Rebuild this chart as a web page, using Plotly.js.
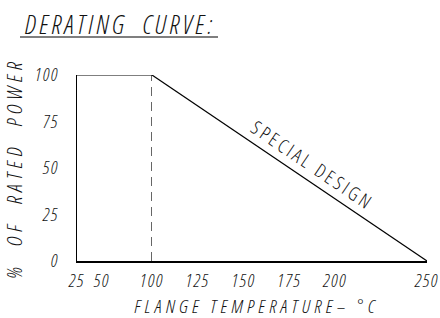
<!DOCTYPE html>
<html><head><meta charset="utf-8">
<script src="https://cdn.plot.ly/plotly-3.0.1.min.js"></script>
<style>html,body{margin:0;padding:0;background:#fff}#chart{width:440px;height:318px}
#chart svg text{font-stretch:75% !important;font-style:italic !important;}
#chart svg .gtitle{letter-spacing:3.2px;}
#chart svg .g-ytitle text{letter-spacing:4.6px;}
#chart svg .xtick text, #chart svg .ytick text, #chart svg .x2tick text{letter-spacing:1.5px;}
#chart svg .annotation text{letter-spacing:4.2px;}
#chart svg .annotation.special text{font-style:normal !important;letter-spacing:3px;}
</style>
</head><body><div id="chart"></div>
<script>
// Data
const temps = [25, 100, 250];          // flange temperature, °C
const power = [100, 100, 0];           // % of rated power
const xTicksLow = [25, 50, 100];
const xTicksHigh = [125, 150, 175, 200, 250];
const yTicks = [0, 25, 50, 75, 100];
const curveLabel = 'SPECIAL DESIGN';
const labelTemp = 183;

const FONT = 'Open Sans, DejaVu Sans Condensed, sans-serif';
const INK = '#111';
const knee = 1;
const lowX = temps.filter(t => t <= temps[knee]);
const lowY = power.slice(0, lowX.length);
const highX = temps.slice(knee);
const highY = power.slice(knee);
const labelPower = highY[0] + (labelTemp - highX[0]) * (highY[1] - highY[0]) / (highX[1] - highX[0]);

const d1 = (temps[knee] - temps[0]) / 350;

const traces = [
  {x: lowX, y: lowY, xaxis: 'x', yaxis: 'y', mode: 'lines', line: {color: '#000', width: 1.2}, hoverinfo: 'skip'},
  {x: highX, y: highY, xaxis: 'x2', yaxis: 'y', mode: 'lines', line: {color: '#000', width: 1.2}, hoverinfo: 'skip'},
  {x: [temps[knee], temps[knee]], y: [0, power[knee]], xaxis: 'x', yaxis: 'y', mode: 'lines',
   line: {color: '#000', width: 1.2, dash: '9px,6px'}, hoverinfo: 'skip'}
];

const tickFont = {family: FONT, size: 18, color: INK, style: 'italic', weight: 300};
const layout = {
  width: 440, height: 318,
  margin: {l: 77, r: 13, t: 75, b: 57},
  paper_bgcolor: '#fff', plot_bgcolor: '#fff',
  showlegend: false,
  title: {text: 'DERATING  CURVE:', x: 25/440, xanchor: 'left', xref: 'container',
          y: 1 - 25/318, yanchor: 'middle', yref: 'container',
          font: {family: FONT, size: 26, color: INK, style: 'italic', weight: 300}},
  xaxis: {domain: [0, d1], range: [temps[0], temps[knee]], tickvals: xTicksLow, ticktext: xTicksLow.map(String),
          ticks: '', showgrid: false, zeroline: false, showline: true, linecolor: '#000', linewidth: 1.5,
          tickfont: tickFont, anchor: 'y', ticklabelstandoff: 3, ticklabeloverflow: 'allow'},
  xaxis2: {domain: [d1, 1], range: [temps[knee], temps[2]], tickvals: xTicksHigh, ticktext: xTicksHigh.map(String),
          ticks: '', showgrid: false, zeroline: false, showline: true, linecolor: '#000', linewidth: 1.5,
          tickfont: tickFont, anchor: 'y', ticklabelstandoff: 3, ticklabeloverflow: 'allow'},
  xaxis3: {overlaying: 'x', domain: [0, d1], range: [temps[0], temps[knee]], tickvals: [temps[0], temps[knee]],
          ticks: 'outside', ticklen: 8, tickwidth: 1.5, tickcolor: '#000', showticklabels: false,
          showgrid: false, zeroline: false, showline: false, anchor: 'y'},
  yaxis: {domain: [0, 1], range: [0, 100], tickvals: yTicks, ticktext: yTicks.map(String), ticks: '',
          showgrid: false, zeroline: false, showline: true, linecolor: '#000', linewidth: 1.5,
          tickfont: tickFont, anchor: 'x', ticklabelstandoff: 13,
          title: {text: '%  OF  RATED  POWER', font: {family: FONT, size: 21, color: INK, style: 'italic', weight: 300}, standoff: 7}},
  yaxis2: {overlaying: 'y', range: [0, 100], tickvals: [0, 100], ticks: 'outside', ticklen: 6, tickwidth: 1.3,
          tickcolor: '#000', showticklabels: false, showgrid: false, zeroline: false, showline: false, anchor: 'x'},
  shapes: [{type: 'line', xref: 'paper', yref: 'paper', x0: -57/350, x1: 141/350, y0: 1 + 38/186, y1: 1 + 38/186,
            line: {color: '#000', width: 1.2}}],
  annotations: [
    {xref: 'x2', yref: 'y', x: labelTemp, y: labelPower, text: curveLabel, showarrow: false,
     textangle: 34, xshift: 8, yshift: 13,
     font: {family: FONT, size: 19, color: INK, weight: 300}},
    {xref: 'paper', yref: 'paper', x: (257 - 77) / 350, y: -45/186, xanchor: 'center', yanchor: 'middle',
     text: 'FLANGE TEMPERATURE– °C', showarrow: false,
     font: {family: FONT, size: 19, color: INK, style: 'italic', weight: 300}}
  ]
};
Plotly.newPlot('chart', traces, layout, {staticPlot: true, displayModeBar: false}).then(() => {
  const ann = document.querySelectorAll('#chart .annotation');
  if (ann[0]) ann[0].classList.add('special');
});
</script></body></html>
